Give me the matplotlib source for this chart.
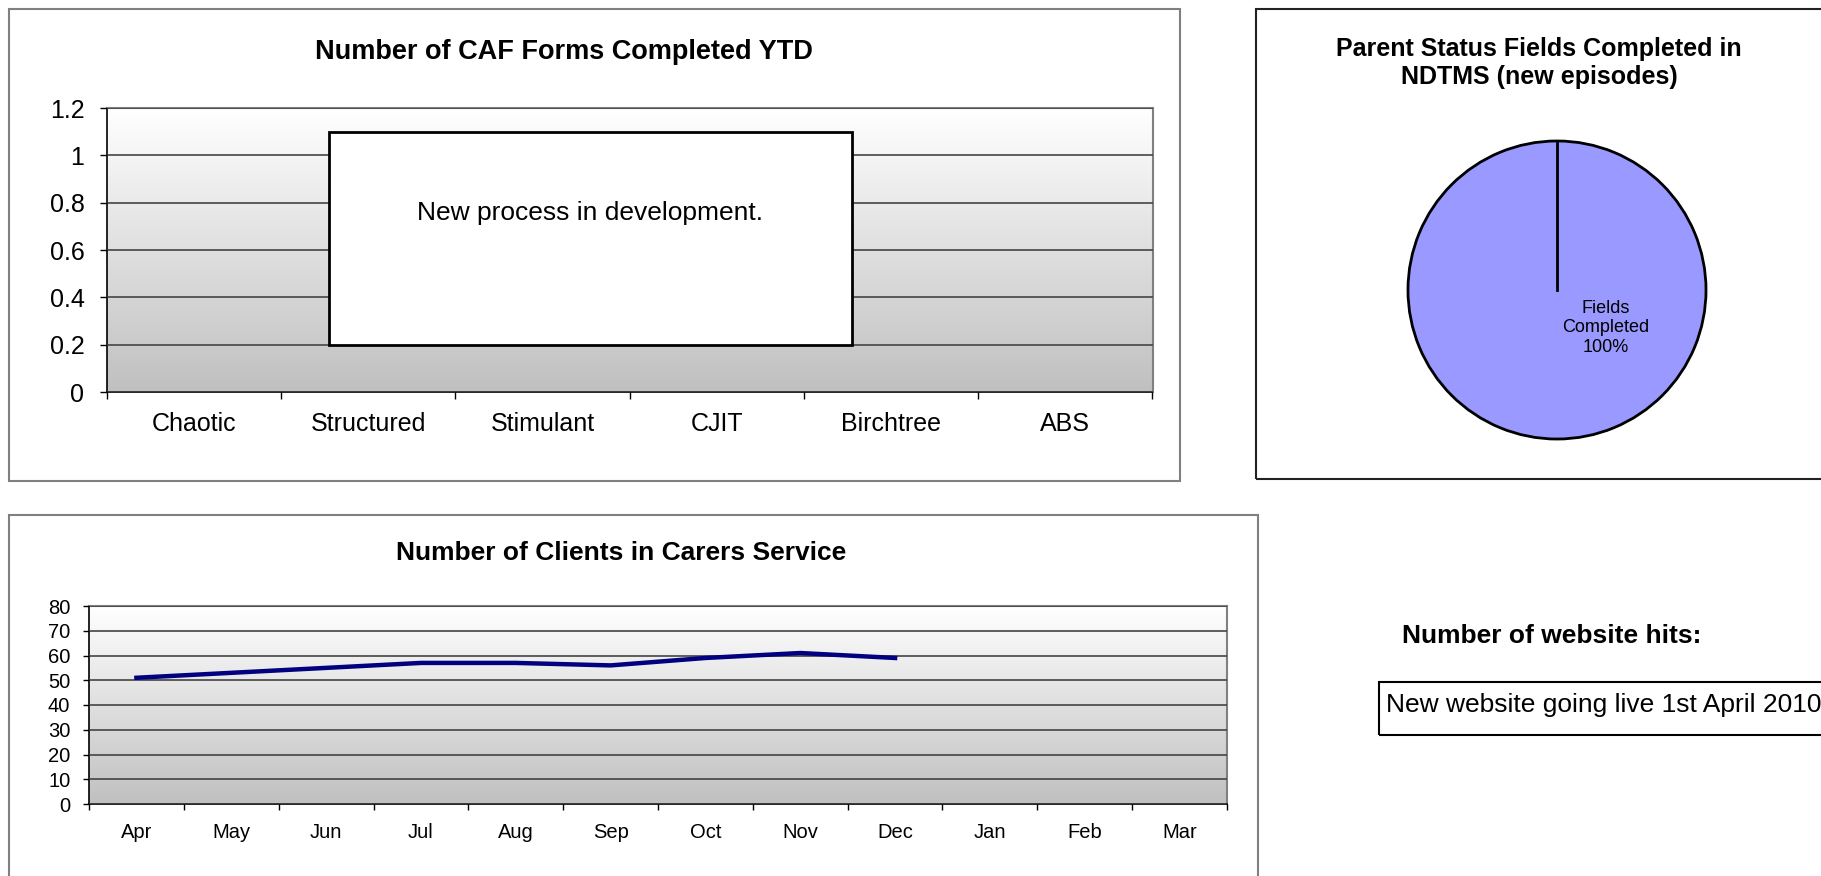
import numpy as np
import matplotlib
matplotlib.use("Agg")
import matplotlib.pyplot as plt
from matplotlib.patches import Rectangle
from matplotlib.colors import LinearSegmentedColormap

plt.rcParams['font.family'] = ['Liberation Sans', 'DejaVu Sans']

# data
caf_categories = ["Chaotic", "Structured", "Stimulant", "CJIT", "Birchtree", "ABS"]
caf_values = [0, 0, 0, 0, 0, 0]
caf_yticks = [0, 0.2, 0.4, 0.6, 0.8, 1.0, 1.2]

pie_labels = ["Fields\nCompleted"]
pie_values = [100]

months = ["Apr", "May", "Jun", "Jul", "Aug", "Sep", "Oct", "Nov", "Dec", "Jan", "Feb", "Mar"]
clients = [51, 53, 55, 57, 57, 56, 59, 61, 59]
client_yticks = [0, 10, 20, 30, 40, 50, 60, 70, 80]

W, H = 1821, 876
fig = plt.figure(figsize=(W / 100, H / 100), dpi=100)


def box(x0, y0, x1, y1):
    # pixel box (top-left origin) -> figure fraction rect
    return [x0 / W, 1 - y1 / H, (x1 - x0) / W, (y1 - y0) / H]


def panel(x0, y0, x1, y1, color):
    r = Rectangle((x0 / W, 1 - y1 / H), (x1 - x0) / W, (y1 - y0) / H,
                  transform=fig.transFigure, fill=False, edgecolor=color, lw=1.5)
    fig.add_artist(r)


grad_cmap = LinearSegmentedColormap.from_list("xl", ["#c0c0c0", "#ffffff"])


def gradient_bg(ax):
    g = np.linspace(0, 1, 256).reshape(-1, 1)
    ax.imshow(g, cmap=grad_cmap, origin="lower", extent=[0, 1, 0, 1],
              transform=ax.transAxes, aspect="auto", zorder=0)


def style_axes(ax):
    for s in ["top", "right"]:
        ax.spines[s].set_color("#808080")
        ax.spines[s].set_linewidth(1.5)
    for s in ["left", "bottom"]:
        ax.spines[s].set_color("black")
        ax.spines[s].set_linewidth(1.2)
    ax.yaxis.grid(True, color="#444444", lw=1.2)
    ax.set_axisbelow(False)


# panels
panel(9, 9, 1180, 481, "#808080")
panel(1256, 9, 1830, 479, "#222222")
panel(9, 515, 1258, 890, "#808080")

# ---- CAF forms bar chart ----
ax1 = fig.add_axes(box(106.7, 108, 1152.5, 392))
gradient_bg(ax1)
x = np.arange(len(caf_categories))
ax1.bar(x, caf_values, width=0.6, color="#9999ff", zorder=3)
ax1.set_xlim(-0.5, len(caf_categories) - 0.5)
ax1.set_ylim(0, 1.2)
ax1.set_yticks(caf_yticks)
ax1.set_yticklabels([f"{v:g}" for v in caf_yticks])
ax1.set_xticks(np.arange(len(caf_categories) + 1) - 0.5)
ax1.set_xticklabels([])
ax1.set_xticks(x, minor=True)
ax1.set_xticklabels(caf_categories, minor=True)
ax1.tick_params(axis="x", which="major", length=5, width=1)
ax1.tick_params(axis="x", which="minor", length=0, pad=14.5, labelsize=18)
ax1.tick_params(axis="y", length=5, width=1, pad=11, labelsize=18)
style_axes(ax1)
ax1.add_patch(Rectangle((0.774, 0.2), 3.0, 0.9, facecolor="white",
                        edgecolor="black", lw=2, zorder=4))
ax1.text(2.274, 0.756, "New process in development.", ha="center", va="center",
         fontsize=19, zorder=5)
fig.text(564 / W, 1 - 52 / H, "Number of CAF Forms Completed YTD", ha="center",
         va="center", fontsize=19.5, fontweight="bold")

# ---- pie ----
ax2 = fig.add_axes(box(1405, 138, 1709, 442))
ax2.pie(pie_values, colors=["#9999ff"], startangle=90, counterclock=False,
        wedgeprops=dict(edgecolor="black", linewidth=2))
ang = np.deg2rad(90)
ax2.plot([0, np.cos(ang)], [0, np.sin(ang)], color="black", lw=2)
pct = pie_values[0] / sum(pie_values) * 100
ax2.text(0.327, -0.253, f"{pie_labels[0]}\n{pct:.0f}%", ha="center", va="center",
         fontsize=13, linespacing=1.2)
ax2.set_xlim(-1.02, 1.02)
ax2.set_ylim(-1.02, 1.02)
ax2.set_aspect("equal")
fig.text(1539 / W, 1 - 63 / H, "Parent Status Fields Completed in\nNDTMS (new episodes)",
         ha="center", va="center", fontsize=18, fontweight="bold", linespacing=1.2)

# ---- clients line chart ----
ax3 = fig.add_axes(box(89, 606, 1227, 804))
gradient_bg(ax3)
ax3.plot(np.arange(len(clients)), clients, color="#000080", lw=3.2, zorder=4)
ax3.set_xlim(-0.5, len(months) - 0.5)
ax3.set_ylim(0, 80)
ax3.set_yticks(client_yticks)
ax3.set_xticks(np.arange(len(months) + 1) - 0.5)
ax3.set_xticklabels([])
ax3.set_xticks(np.arange(len(months)), minor=True)
ax3.set_xticklabels(months, minor=True)
ax3.tick_params(axis="x", which="major", length=4.5, width=1)
ax3.tick_params(axis="x", which="minor", length=0, pad=14, labelsize=14.5)
ax3.tick_params(axis="y", length=4.5, width=1, pad=9, labelsize=14.5)
style_axes(ax3)
fig.text(621 / W, 1 - 553 / H, "Number of Clients in Carers Service", ha="center",
         va="center", fontsize=19, fontweight="bold")

# ---- website hits note ----
fig.text(1402 / W, 1 - 636 / H, "Number of website hits:", ha="left", va="center",
         fontsize=19, fontweight="bold")
fig.add_artist(Rectangle((1379 / W, 1 - 735 / H), (1840 - 1379) / W, 53 / H,
                         transform=fig.transFigure, fill=False, edgecolor="black", lw=1.5))
fig.text(1386 / W, 1 - 705 / H, "New website going live 1st April 2010", ha="left",
         va="center", fontsize=19)

fig.savefig("out.png", dpi=100)
